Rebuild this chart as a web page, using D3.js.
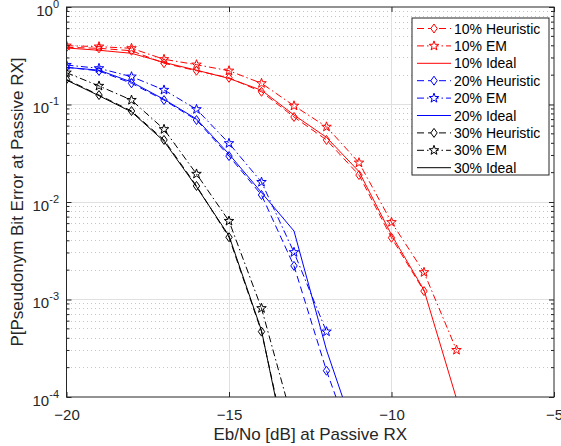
<!DOCTYPE html>
<html>
<head>
<meta charset="utf-8">
<script src="https://cdn.jsdelivr.net/npm/d3@7"></script>
<style>
  body { margin: 0; background: #fff; }
  svg { font-family: "Liberation Sans", Arial, sans-serif; }
</style>
</head>
<body>
<svg id="chart" width="561" height="446"></svg>
<script>
// Eb/No points [dB]
const ebno = [-20, -19, -18, -17, -16, -15, -14, -13, -12, -11, -10, -9, -8];

// 10% series
const heur10  = [0.386, 0.377, 0.356, 0.265, 0.222, 0.188, 0.135, 0.0745, 0.0433, 0.0189, 0.0043, 0.00122, null];
const em10    = [0.401, 0.392, 0.377, 0.291, 0.256, 0.222, 0.165, 0.097, 0.059, 0.0253, 0.0062, 0.0019, 0.000303];
const ideal10 = [0.38, 0.36, 0.335, 0.27, 0.225, 0.185, 0.14, 0.078, 0.046, 0.0205, 0.0046, 0.00125, 0.000096];
// 20% series
const heur20  = [0.241, 0.221, 0.165, 0.111, 0.0693, 0.0296, 0.0118, 0.00221, 0.000186, 0.000022, null, null, null];
const em20    = [0.254, 0.235, 0.193, 0.141, 0.0893, 0.040, 0.016, 0.00305, 0.000468, null, null, null, null];
const ideal20 = [0.24, 0.225, 0.17, 0.113, 0.071, 0.031, 0.0125, 0.00504, 0.000303, 0.000032, null, null, null];
// 30% series
const heur30  = [0.181, 0.125, 0.0857, 0.0433, 0.0146, 0.00435, 0.000468, 0.000014, null, null, null, null, null];
const em30    = [0.212, 0.155, 0.111, 0.0557, 0.0194, 0.00638, 0.000813, 0.00005, null, null, null, null, null];
const ideal30 = [0.178, 0.123, 0.084, 0.042, 0.0143, 0.0045, 0.00048, 0.000012, null, null, null, null, null];

const xTicks = [-20, -15, -10, -5];
const yTicks = [1e-4, 1e-3, 1e-2, 1e-1, 1];
const yExp = [-4, -3, -2, -1, 0];

const series = [
  { name: '10% Heuristic', values: heur10,  color: '#ff0000', dash: '7,4',         marker: 'diamond' },
  { name: '10% EM',        values: em10,    color: '#ff0000', dash: '7,3,1.5,3',   marker: 'star' },
  { name: '10% Ideal',     values: ideal10, color: '#ff0000', dash: null,          marker: null },
  { name: '20% Heuristic', values: heur20,  color: '#0000ff', dash: '7,4',         marker: 'diamond' },
  { name: '20% EM',        values: em20,    color: '#0000ff', dash: '7,3,1.5,3',   marker: 'star' },
  { name: '20% Ideal',     values: ideal20, color: '#0000ff', dash: null,          marker: null },
  { name: '30% Heuristic', values: heur30,  color: '#000000', dash: '7,4',         marker: 'diamond' },
  { name: '30% EM',        values: em30,    color: '#000000', dash: '7,3,1.5,3',   marker: 'star' },
  { name: '30% Ideal',     values: ideal30, color: '#000000', dash: null,          marker: null }
];

const svg = d3.select('#chart');
const pLeft = 66.5, pRight = 554, pTop = 7, pBottom = 397;

const x = d3.scaleLinear().domain([-20, -5]).range([pLeft, pRight]);
const y = d3.scaleLog().domain([1e-4, 1]).range([pBottom, pTop]);

// minor grid (dotted, y only)
const minorVals = [];
for (let e = -4; e < 0; e++) {
  for (let m = 2; m <= 9; m++) minorVals.push(m * Math.pow(10, e));
}
svg.append('g').selectAll('line').data(minorVals).enter().append('line')
  .attr('x1', pLeft).attr('x2', pRight)
  .attr('y1', d => y(d)).attr('y2', d => y(d))
  .attr('stroke', '#c4c4c4').attr('stroke-width', 1)
  .attr('stroke-dasharray', '1,3')
  .attr('shape-rendering', 'crispEdges');

// major grid
const grid = svg.append('g').attr('stroke', '#e0e0e0').attr('stroke-width', 1)
  .attr('shape-rendering', 'crispEdges');
grid.selectAll('.gx').data(xTicks.slice(1, -1)).enter().append('line')
  .attr('x1', d => x(d)).attr('x2', d => x(d)).attr('y1', pTop).attr('y2', pBottom);
grid.selectAll('.gy').data(yTicks.slice(1, -1)).enter().append('line')
  .attr('y1', d => y(d)).attr('y2', d => y(d)).attr('x1', pLeft).attr('x2', pRight);

// curves
svg.append('defs').append('clipPath').attr('id', 'plotclip')
  .append('rect').attr('x', pLeft).attr('y', pTop)
  .attr('width', pRight - pLeft).attr('height', pBottom - pTop);

const line = d3.line()
  .defined(d => d.v != null)
  .x(d => x(d.x))
  .y(d => y(d.v));

const diamond = 'M0,-4.5L3.2,0L0,4.5L-3.2,0Z';
function starPath(R, r) {
  let p = '';
  for (let i = 0; i < 10; i++) {
    const a = -Math.PI / 2 + i * Math.PI / 5;
    const rr = i % 2 === 0 ? R : r;
    p += (i === 0 ? 'M' : 'L') + (rr * Math.cos(a)).toFixed(2) + ',' + (rr * Math.sin(a)).toFixed(2);
  }
  return p + 'Z';
}
const star = starPath(5, 2);

const plot = svg.append('g').attr('clip-path', 'url(#plotclip)');
series.forEach(s => {
  const pts = ebno.map((xv, i) => ({ x: xv, v: s.values[i] }));
  plot.append('path')
    .attr('d', line(pts))
    .attr('fill', 'none')
    .attr('stroke', s.color)
    .attr('stroke-width', 1)
    .attr('stroke-dasharray', s.dash);
  if (s.marker) {
    plot.selectAll(null).data(pts.filter(d => d.v != null && d.v >= 1e-4)).enter()
      .append('path')
      .attr('transform', d => `translate(${x(d.x)},${y(d.v)})`)
      .attr('d', s.marker === 'diamond' ? diamond : star)
      .attr('fill', 'none')
      .attr('stroke', s.color)
      .attr('stroke-width', 1);
  }
});

// axes
const axisColor = '#262626';
const xAxis = d3.axisBottom(x).tickValues(xTicks).tickSize(-5).tickPadding(12)
  .tickFormat(d3.format('d'));
const xAxisG = svg.append('g').attr('transform', `translate(0,${pBottom})`).call(xAxis);
const xTopG = svg.append('g').attr('transform', `translate(0,${pTop})`)
  .call(d3.axisTop(x).tickValues(xTicks).tickSize(-5).tickFormat(''));

const yAxis = d3.axisLeft(y).tickValues(yTicks).tickSize(-5).tickPadding(7.5);
const yAxisG = svg.append('g').attr('transform', `translate(${pLeft},0)`).call(yAxis);
const yRightG = svg.append('g').attr('transform', `translate(${pRight},0)`)
  .call(d3.axisRight(y).tickValues(yTicks).tickSize(-5).tickFormat(''));

// minor ticks
[[pLeft, 3], [pRight, -3]].forEach(([xp, len]) => {
  svg.append('g').selectAll('line').data(minorVals).enter().append('line')
    .attr('x1', xp).attr('x2', xp + len)
    .attr('y1', d => y(d)).attr('y2', d => y(d))
    .attr('stroke', axisColor).attr('stroke-width', 1);
});

[xAxisG, xTopG, yAxisG, yRightG].forEach(g => {
  g.selectAll('.domain').remove();
  g.selectAll('line').attr('stroke', axisColor);
});

xAxisG.selectAll('text')
  .attr('font-size', 15).attr('fill', axisColor)
  .attr('font-family', '"Liberation Sans", Arial, sans-serif');

yAxisG.selectAll('text')
  .attr('font-family', '"Liberation Sans", Arial, sans-serif')
  .attr('fill', axisColor)
  .attr('dy', 8)
  .attr('font-size', 15)
  .text(null)
  .each(function (d, i) {
    const t = d3.select(this);
    t.append('tspan').text('10');
    t.append('tspan').attr('dy', -8).attr('font-size', 11).text(yExp[i]);
  });

// box
svg.append('rect')
  .attr('x', pLeft).attr('y', pTop)
  .attr('width', pRight - pLeft).attr('height', pBottom - pTop)
  .attr('fill', 'none').attr('stroke', axisColor).attr('stroke-width', 1);

// axis labels
svg.append('text')
  .attr('x', (pLeft + pRight) / 2).attr('y', 440)
  .attr('text-anchor', 'middle')
  .attr('font-size', 17).attr('fill', axisColor)
  .text('Eb/No [dB] at Passive RX');

svg.append('text')
  .attr('transform', `translate(23,${(pTop + pBottom) / 2}) rotate(-90)`)
  .attr('text-anchor', 'middle')
  .attr('font-size', 17).attr('fill', axisColor)
  .text('P[Pseudonym Bit Error at Passive RX]');

// legend
const lg = svg.append('g');
lg.append('rect')
  .attr('x', 412).attr('y', 18)
  .attr('width', 137).attr('height', 157)
  .attr('fill', '#fff').attr('stroke', axisColor).attr('stroke-width', 1);

series.forEach((s, i) => {
  const ry = 28.5 + i * 17.4;
  lg.append('line')
    .attr('x1', 417).attr('x2', 451).attr('y1', ry).attr('y2', ry)
    .attr('stroke', s.color).attr('stroke-width', 1)
    .attr('stroke-dasharray', s.dash);
  if (s.marker) {
    lg.append('path')
      .attr('transform', `translate(434,${ry})`)
      .attr('d', s.marker === 'diamond' ? diamond : star)
      .attr('fill', '#fff').attr('stroke', s.color).attr('stroke-width', 1);
  }
  lg.append('text')
    .attr('x', 454).attr('y', ry + 5)
    .attr('font-size', 14).attr('fill', '#000')
    .text(s.name);
});
</script>
</body>
</html>
